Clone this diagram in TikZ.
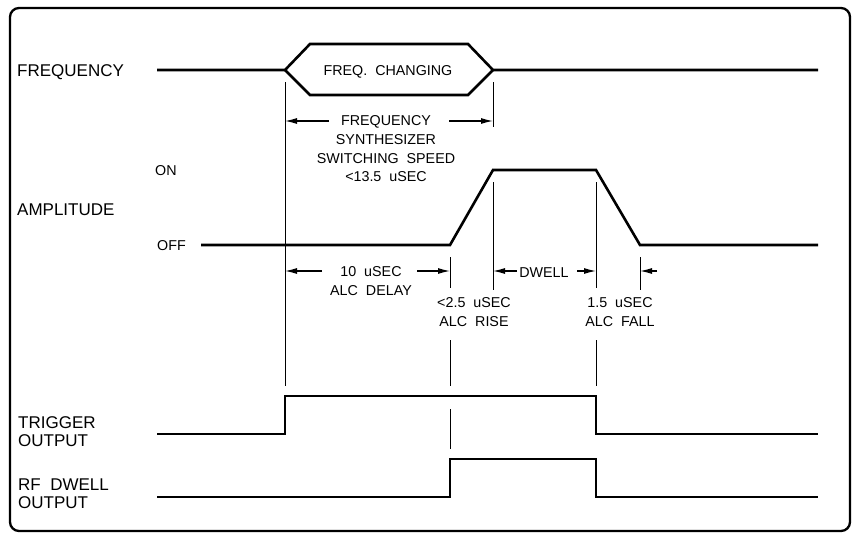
\documentclass[tikz,border=0pt]{standalone}
\usepackage{fontspec}
\setmainfont{Liberation Sans}
\usepackage{tikz}
\usetikzlibrary{arrows.meta}
\tikzset{
  signal/.style={line width=2.6pt,line join=miter},
  extline/.style={line width=0.9pt},
  dimarrow/.style={line width=1.2pt,-{Latex[length=12pt,width=6pt]}},
  biglabel/.style={inner sep=0pt,font=\fontsize{17}{18}\selectfont,align=left},
  smalllabel/.style={inner sep=0pt,font=\fontsize{14.3}{18.7}\selectfont,align=center}
}

\begin{document}
\begin{tikzpicture}[x=1pt,y=-1pt]
  \useasboundingbox (0,0) rectangle (852,533);
  \draw[line width=2.3pt,rounded corners=9pt] (10,8) rectangle (850,531);
  % signal names
  \node[biglabel,anchor=base west] (freqname) at (17,76) {FREQUENCY};
  \node[biglabel,anchor=base west] (ampname) at (17,215) {AMPLITUDE};
  \node[smalllabel,anchor=base west] (on) at (155,175) {ON};
  \node[smalllabel,anchor=base west] (off) at (157,250) {OFF};
  \node[biglabel,anchor=north west] (trigname) at (18,416.5) {TRIGGER\\OUTPUT};
  \node[biglabel,anchor=north west] (rfname) at (18,478.5) {RF~~DWELL\\OUTPUT};
  % frequency
  \draw[signal] (157,70) -- (285,70) -- (310,44) -- (468,44) -- (493,70) -- (818,70);
  \draw[signal] (285,70) -- (310,95) -- (468,95) -- (493,70);
  \node[smalllabel,anchor=base] (chg) at (388,75) {FREQ.~~CHANGING};
  % amplitude
  \draw[signal] (201,245) -- (450,245) -- (493,170) -- (596,170) -- (640,245) -- (818,245);
  % trigger output
  \draw[signal] (157,434) -- (285,434) -- (285,396) -- (596,396) -- (596,434) -- (818,434);
  % rf dwell output
  \draw[signal] (157,497) -- (450,497) -- (450,459) -- (596,459) -- (596,497) -- (818,497);
  % extension lines
  \draw[extline] (285,82) -- (285,386);
  \draw[extline] (493,82) -- (493,127);
  \draw[extline] (493,182) -- (493,290);
  \draw[extline] (450,257) -- (450,288);
  \draw[extline] (450,340) -- (450,386);
  \draw[extline] (450,409) -- (450,449);
  \draw[extline] (596,182) -- (596,288);
  \draw[extline] (596,340) -- (596,386);
  \draw[extline] (640,257) -- (640,290);
  % switching speed
  \node[smalllabel,anchor=north] (fss) at (386,115.5) {FREQUENCY\\SYNTHESIZER\\SWITCHING~~SPEED\\<13.5~~uSEC};
  \draw[dimarrow] (329,121) -- (285,121);
  \draw[dimarrow] (449,121) -- (493,121);
  % alc delay
  \node[smalllabel,anchor=north] (delay) at (371,266.5) {10~~uSEC\\ALC~~DELAY};
  \draw[dimarrow] (322,271) -- (285,271);
  \draw[dimarrow] (417,271) -- (450,271);
  % rise
  \node[smalllabel,anchor=north] (rise) at (474,297.5) {<2.5~~uSEC\\ALC~~RISE};
  % dwell
  \node[smalllabel,anchor=base] (dwell) at (544,277) {DWELL};
  \draw[dimarrow] (517,271) -- (493,271);
  \draw[dimarrow] (577,271) -- (596,271);
  % fall
  \node[smalllabel,anchor=north] (fall) at (620,297.5) {1.5~~uSEC\\ALC~~FALL};
  \draw[dimarrow] (657,271) -- (640,271);
\end{tikzpicture}
\end{document}
